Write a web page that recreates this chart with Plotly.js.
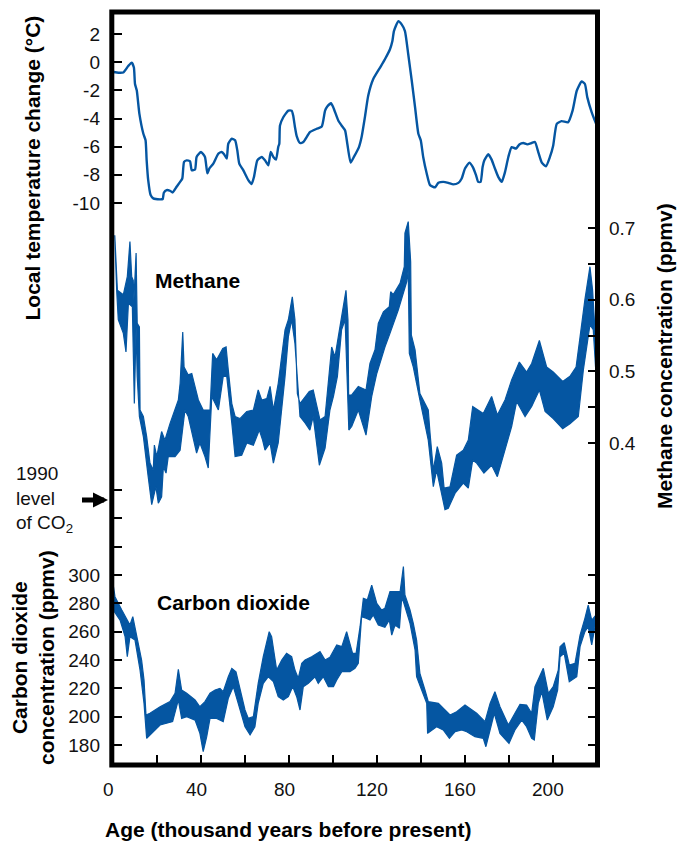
<!DOCTYPE html>
<html><head><meta charset="utf-8">
<script src="https://cdn.plot.ly/plotly-3.0.1.min.js"></script>
<style>html,body{margin:0;padding:0;background:#fff;} #chart{width:687px;height:841px;}</style>
</head><body><div id="chart"></div>
<script>
// ---------------- DATA ----------------
// Local temperature change (deg C) : [age kyr BP, value]
const temperature = [[0.3,-0.7],[2.5,-0.75],[4.7,-0.73],[7,-0.26],[8.5,-0.03],[9.5,-0.38],[10,-1.55],[10.8,-2.0],[12,-3.67],[13.8,-5.08],[14.8,-5.55],[15.3,-6.97],[16,-8.38],[17.1,-9.44],[18.3,-9.67],[21.4,-9.74],[22.6,-9.72],[23.1,-9.27],[24.4,-9.08],[25.9,-9.13],[27.1,-9.25],[28.9,-8.85],[30.5,-8.5],[31.5,-8.26],[32.3,-7.08],[33.5,-6.97],[35,-7.04],[35.8,-7.67],[37.3,-7.62],[38,-6.73],[40,-6.38],[41.8,-6.73],[42.9,-7.9],[43.8,-7.55],[45.6,-7.2],[47.9,-6.49],[49.4,-6.38],[50.5,-6.54],[51.7,-6.85],[52.4,-5.79],[54,-5.43],[55.5,-5.55],[56.5,-6.26],[57.4,-7.2],[59.2,-7.67],[61.5,-8.38],[63,-8.66],[64.1,-8.14],[65.6,-6.97],[67.6,-6.73],[69.1,-6.97],[70.6,-7.32],[71.7,-6.38],[72.9,-6.73],[74.1,-6.92],[75.1,-6.03],[75.6,-5.79],[75.9,-4.5],[77.4,-3.91],[79.7,-3.44],[81.2,-3.44],[81.9,-3.79],[82.7,-4.6],[83.5,-5.25],[85,-5.74],[86.5,-5.67],[89.5,-4.97],[92.6,-4.73],[94.9,-4.57],[96.4,-3.44],[97.4,-3.15],[99.1,-2.92],[100.1,-3.2],[102.4,-4.14],[103.9,-4.5],[105.5,-4.85],[106.5,-5.79],[108,-7.13],[109.5,-6.73],[111.8,-6.03],[113,-5.32],[114.5,-3.91],[116,-2.38],[118.3,-1.2],[121.4,-0.38],[123.6,0.21],[125.9,0.92],[127,1.5],[127.7,2.21],[129.7,2.91],[131.2,2.68],[132.7,2.21],[134.2,0.56],[135.8,-1.32],[137.3,-3.2],[138.8,-5.08],[139.9,-5.55],[141,-6.73],[142.6,-7.9],[144.1,-8.73],[146.4,-8.89],[147.9,-8.57],[150.1,-8.5],[152.4,-8.57],[154.7,-8.68],[157,-8.57],[158.5,-8.26],[160,-7.55],[162,-7.13],[163.5,-7.44],[165,-8.02],[166,-8.5],[167.1,-8.5],[168,-7.44],[168.8,-6.97],[170.6,-6.54],[172.1,-6.92],[173.6,-7.55],[175.1,-8.14],[176.7,-8.5],[178.2,-7.79],[179.7,-6.73],[181.2,-6.03],[183.2,-6.14],[184.7,-5.84],[186.5,-5.74],[188.3,-5.84],[190.3,-5.74],[191.8,-5.67],[193.3,-6.38],[194.9,-7.13],[196.8,-7.39],[198.6,-6.73],[200.1,-5.91],[201.7,-4.38],[203.9,-4.19],[206.9,-4.26],[208.9,-3.44],[210.8,-2.03],[213,-1.37],[214.5,-1.55],[215.6,-2.5],[217.6,-3.56],[219.6,-4.38]];

// Methane concentration (ppmv) band : upper and lower edges [age, value]
const methaneUpper = [[0.8,0.69],[2,0.613],[4.7,0.607],[6.5,0.632],[7.7,0.681],[8.5,0.632],[9.2,0.627],[9.5,0.6],[10.5,0.665],[11,0.567],[12,0.562],[12.3,0.446],[13.8,0.437],[15.3,0.409],[16.8,0.372],[18.3,0.362],[18.8,0.397],[19.9,0.381],[22.1,0.416],[23.6,0.404],[25.9,0.427],[29.7,0.46],[30.5,0.483],[31.7,0.555],[32.3,0.506],[34.2,0.495],[35.8,0.497],[38.8,0.46],[41,0.446],[44.1,0.446],[45.3,0.525],[47.1,0.516],[49.9,0.532],[51.4,0.534],[52.4,0.502],[54,0.455],[55.5,0.437],[57.7,0.434],[60.8,0.444],[63.8,0.446],[66,0.474],[67.6,0.46],[69.9,0.462],[71.4,0.479],[72.9,0.446],[75.1,0.483],[78.2,0.558],[79.7,0.572],[81.5,0.604],[82.7,0.572],[83.8,0.469],[85,0.455],[89.2,0.472],[91,0.474],[94.1,0.432],[96.4,0.437],[99.4,0.534],[100.9,0.52],[102.4,0.548],[103.9,0.576],[105.9,0.613],[106.4,0.59],[106.8,0.572],[107.1,0.467],[108.5,0.467],[111.5,0.479],[115,0.474],[116.8,0.511],[119.1,0.53],[120.6,0.567],[122.9,0.583],[125.6,0.59],[126.2,0.611],[127.4,0.607],[130.5,0.623],[132.4,0.646],[132.7,0.693],[134.2,0.709],[135,0.655],[135.3,0.653],[135.6,0.551],[137.3,0.53],[139.5,0.469],[143.3,0.446],[144.1,0.414],[145.6,0.362],[147.4,0.395],[149.4,0.372],[150.5,0.337],[153.2,0.339],[156.2,0.383],[159.2,0.39],[161.5,0.404],[163.5,0.451],[168.3,0.441],[172.1,0.465],[174.7,0.439],[178.2,0.46],[181.2,0.488],[184.7,0.513],[188,0.499],[190.3,0.511],[193.8,0.543],[197.1,0.506],[200.1,0.499],[204.4,0.486],[207.7,0.493],[210.5,0.506],[212.3,0.548],[214.5,0.6],[216.8,0.646],[218,0.613],[219.6,0.53]];
const methaneLower = [[0.8,0.69],[1.7,0.611],[2.4,0.572],[4.7,0.553],[5.9,0.527],[7,0.595],[8.8,0.59],[9.7,0.455],[10.5,0.562],[11,0.493],[12,0.437],[13.8,0.409],[16,0.353],[17.6,0.314],[18.6,0.325],[19.5,0.339],[20.6,0.316],[22.1,0.325],[22.9,0.367],[24.1,0.358],[25.1,0.381],[28.2,0.381],[30.5,0.39],[32.7,0.446],[34.2,0.437],[38,0.386],[39.5,0.4],[41.8,0.381],[43.3,0.365],[44.9,0.465],[47.9,0.446],[50.1,0.493],[51.7,0.493],[54,0.428],[55.5,0.381],[58.5,0.383],[60.8,0.4],[63.8,0.397],[66.5,0.418],[68,0.404],[69.1,0.39],[71.4,0.4],[72.9,0.372],[75.1,0.4],[78.2,0.493],[79.7,0.548],[81.2,0.572],[82.7,0.539],[85,0.437],[87.3,0.428],[89.5,0.418],[91,0.437],[93.8,0.369],[96.4,0.393],[98.6,0.446],[100.2,0.465],[102,0.493],[103.9,0.558],[105.5,0.572],[106.5,0.483],[107.2,0.418],[108.5,0.423],[111.5,0.446],[115,0.411],[117.6,0.465],[119.9,0.497],[123.6,0.534],[125.9,0.553],[129.7,0.586],[133.5,0.625],[134.2,0.641],[134.7,0.525],[136.5,0.506],[139.5,0.46],[143.3,0.404],[145.6,0.339],[147.1,0.362],[148.6,0.339],[150.9,0.307],[152.4,0.309],[155.5,0.33],[159.2,0.344],[161.5,0.337],[163.5,0.376],[165.3,0.372],[168.6,0.358],[172.1,0.369],[174.7,0.353],[178.2,0.39],[181.2,0.423],[183.5,0.458],[187.3,0.437],[190.3,0.451],[193.8,0.474],[196.4,0.444],[200.1,0.434],[204.4,0.42],[207.7,0.427],[211.5,0.437],[213.8,0.502],[216.8,0.565],[218.3,0.558],[219.6,0.493]];

// Carbon dioxide concentration (ppmv) band : upper and lower edges [age, value]
const co2Upper = [[0.1,292.9],[0.9,284.7],[4,275.3],[6.2,269.4],[7.7,264.7],[9,270.6],[10,263.5],[11.5,251.8],[13,240],[14.1,225.9],[15,201.2],[16.8,202.4],[21.4,207],[25.9,210.6],[28.2,216.5],[29.7,233.4],[31.2,218.8],[33.5,216.5],[37.3,211.8],[39.5,207],[41.8,210.6],[44.1,216.5],[46.4,218.8],[48.6,220],[50.1,217.6],[52.4,228.2],[54,234.1],[55.9,231.7],[57.7,220],[60,204.7],[61.5,198.8],[63.8,200],[66,223.5],[68.3,242.3],[71,260],[72.1,256.5],[74.4,232.9],[76.7,240],[78.9,244.7],[81.2,242.3],[82.7,232.9],[84.2,227.1],[85.8,237.7],[87.3,240],[90.3,242.3],[94.1,245.9],[96.4,240],[98.6,242],[101.7,250.6],[104,249.4],[106.2,260],[108.9,244.7],[110.5,244.7],[112.3,263.5],[113.8,283.5],[115.6,282.4],[117.6,292.9],[119.9,280],[122.1,275.3],[123.6,276.5],[125.9,288.2],[130.5,288.2],[132,305.9],[132.7,285.9],[135,275.3],[136.5,265.9],[138,254.1],[139.5,230.6],[141.8,218.8],[143.3,210.6],[147.9,209.4],[150.9,204.7],[153.2,201.2],[156.2,203.5],[160,208.2],[165.3,202.4],[169.1,196.5],[171.4,209.4],[173.6,217.6],[175.9,207],[179.7,194.1],[182.7,202.4],[185,208.7],[188,208.2],[190.3,202.4],[191.8,221.2],[195.6,234.1],[197.9,216.5],[200.1,221.2],[202.4,232.9],[203.2,249.4],[205.1,252.2],[207.4,236.5],[210,237.7],[212.3,257.6],[214.5,269.4],[216,278.8],[217.6,268.2],[219.6,271.8]];
const co2Lower = [[0.1,275.3],[3.2,268.2],[5.5,256.5],[6.5,242.3],[7.7,256.5],[10,254.1],[12.3,232.9],[14.1,209.4],[15.3,184.7],[17.6,188.2],[21.4,194.1],[27.1,196.5],[29.7,211.8],[31.2,198.8],[33.5,200],[37.3,197.6],[39.5,188.2],[41,175.3],[42.6,185.9],[44.1,198.8],[47.1,198.8],[50.1,196.5],[52.4,213],[54.7,221.2],[57,209.4],[60,192.9],[62.3,187.1],[64.5,192.9],[66,209.4],[68.3,223.5],[70.6,228.2],[72.9,224.7],[75.1,214.1],[77.4,211.8],[79.7,214.1],[81.7,221.2],[83.5,214.1],[85,204.7],[86.5,221.2],[88.8,223.5],[91.8,228.2],[93.3,223.5],[95.6,228.2],[97.9,221.2],[100.2,221.2],[101.7,225.9],[104,231.8],[107.7,231.8],[110,234.1],[111.5,237.7],[113,270.6],[115.3,269.4],[116.8,268.2],[118.3,271.8],[120.6,264.7],[123.6,263.1],[125.6,268.2],[126.7,257.6],[128.2,264.7],[130.2,262.4],[131.2,283.5],[132,281.2],[135,265.9],[137.3,247.1],[138,228.2],[140.3,218.8],[142.6,209.4],[143,188.2],[147.1,192.9],[150.1,190.6],[152.9,184.7],[155.5,189.4],[158.5,190.6],[160.8,189.4],[164.5,185.9],[168.3,184.7],[169.5,178.8],[171.4,190.6],[173.3,202.4],[175.9,188.2],[180,181.2],[182.7,190.6],[185.8,197.6],[188,192.9],[190.3,184.7],[191.5,183.5],[193.3,209.4],[194.9,217.6],[197.4,197.6],[200.1,207],[202.1,218.8],[203.2,242.3],[205.1,244.7],[207.4,224.7],[210.8,228.2],[212.3,249.4],[214.5,260],[216,263.5],[217.6,250.6],[219.6,268.2]];

const co2Level1990 = 353;

// Tick values / labels
const ageTickVals = [20,40,60,80,100,120,140,160,180,200];
const ageLabelVals = [0,40,80,120,160,200];
const tempTickVals = [-10,-8,-6,-4,-2,0,2];
const tempTickText = ['-10','-8','-6','-4','-2','0','2'];
const ch4TickVals = [0.4,0.45,0.5,0.55,0.6,0.65,0.7];
const ch4TickText = ['0.4','','0.5','','0.6','','0.7'];
const co2LeftTickVals = [180,200,220,240,260,280,300,320,340,360];
const co2LeftTickText = ['180','200','220','240','260','280','300','','',''];
const co2RightTickVals = [180,200,220,240,260,280,300];

// ---------------- LAYOUT GEOMETRY ----------------
const W = 687, H = 841;
const L = 113, R = 597, T = 12, B = 765;
const PW = R - L, PH = B - T;
const BLUE = '#0556a2';
const FONT = 'Liberation Sans, Arial, Helvetica, sans-serif';
const fx = px => (px - L) / PW;
const fy = py => (B - py) / PH;
// axis range so that value v1 sits at pixel p1 and v2 at p2
function rangeFor(v1, p1, v2, p2) {
  const k = (v2 - v1) / (p1 - p2);
  return [v1 - (B - p1) * k, v1 + (p1 - T) * k];
}

const xs = a => a.map(d => d[0]);
const ys = a => a.map(d => d[1]);
const band = (up, lo) => ({
  x: xs(up).concat(xs(lo).reverse()),
  y: ys(up).concat(ys(lo).reverse())
});

const ch4Band = band(methaneUpper, methaneLower);
const co2Band = band(co2Upper, co2Lower);

const traces = [
  {x: xs(temperature), y: ys(temperature), type: 'scatter', mode: 'lines', yaxis: 'y',
   line: {color: BLUE, width: 2.4, shape: 'spline', smoothing: 0.5}, hoverinfo: 'skip'},
  {x: ch4Band.x, y: ch4Band.y, type: 'scatter', mode: 'lines', yaxis: 'y2', fill: 'toself',
   fillcolor: BLUE, line: {color: BLUE, width: 1.2}, hoverinfo: 'skip'},
  {x: co2Band.x, y: co2Band.y, type: 'scatter', mode: 'lines', yaxis: 'y3', fill: 'toself',
   fillcolor: BLUE, line: {color: BLUE, width: 1.2}, hoverinfo: 'skip'},
  {x: [null], y: [null], type: 'scatter', mode: 'lines', yaxis: 'y4', hoverinfo: 'skip'}
];

const tickFont = {family: FONT, size: 19, color: '#111'};
const common = {showgrid: false, zeroline: false, showline: false, ticks: 'inside',
  ticklen: 9, tickwidth: 2, tickcolor: '#000', fixedrange: true, tickfont: tickFont};

const titleFont = {family: FONT, size: 21, color: '#000'};
const annotations = [
  {text: '<b>Local temperature change (°C)</b>', textangle: -90, xref: 'paper', yref: 'paper',
   x: fx(32), y: fy(168.5), xanchor: 'center', yanchor: 'middle', showarrow: false, font: titleFont},
  {text: '<b>Methane concentration (ppmv)</b>', textangle: -90, xref: 'paper', yref: 'paper',
   x: fx(664), y: fy(356), xanchor: 'center', yanchor: 'middle', showarrow: false, font: titleFont},
  {text: '<b>Carbon dioxide<br>concentration (ppmv)</b>', textangle: -90, xref: 'paper', yref: 'paper',
   x: fx(33), y: fy(658), xanchor: 'center', yanchor: 'middle', showarrow: false, font: titleFont},
  {text: '<b>Age (thousand years before present)</b>', xref: 'paper', yref: 'paper',
   x: fx(103), y: fy(829), xanchor: 'left', yanchor: 'middle', showarrow: false, font: titleFont},
  {text: '<b>Methane</b>', xref: 'paper', yref: 'paper', x: fx(153), y: fy(280),
   xanchor: 'left', yanchor: 'middle', showarrow: false, font: titleFont},
  {text: '<b>Carbon dioxide</b>', xref: 'paper', yref: 'paper', x: fx(155), y: fy(602),
   xanchor: 'left', yanchor: 'middle', showarrow: false, font: titleFont},
  {text: '1990<br>level<br>of CO<sub>2</sub>', xref: 'paper', yref: 'paper', x: fx(14), y: fy(499),
   xanchor: 'left', yanchor: 'middle', align: 'left', showarrow: false, font: tickFont},
  {text: ' ', xref: 'paper', yref: 'y3', x: fx(108), y: co2Level1990, ax: -29, ay: 0,
   showarrow: true, arrowhead: 2, arrowsize: 0.6, arrowwidth: 5, arrowcolor: '#000'}
];
ageLabelVals.forEach(v => annotations.push({
  text: String(v), xref: 'x', yref: 'paper', x: v, y: fy(789), xshift: -5,
  xanchor: 'center', yanchor: 'middle', showarrow: false, font: tickFont
}));

const layout = {
  width: W, height: H, autosize: false,
  margin: {l: L, r: W - R, t: T, b: H - B, pad: 0},
  paper_bgcolor: '#fff', plot_bgcolor: 'rgba(0,0,0,0)',
  showlegend: false, hovermode: false,
  xaxis: Object.assign({}, common, {range: [0, 220], tickvals: ageTickVals, showticklabels: false, ticklen: 10}),
  yaxis: Object.assign({}, common, {range: rangeFor(2, 34, -10, 203), tickvals: tempTickVals,
    ticktext: tempTickText, side: 'left', ticklabelstandoff: 12}),
  yaxis2: Object.assign({}, common, {range: rangeFor(0.7, 228, 0.4, 443), tickvals: ch4TickVals,
    ticktext: ch4TickText, side: 'right', overlaying: 'y', anchor: 'x', ticklabelstandoff: 11}),
  yaxis3: Object.assign({}, common, {range: rangeFor(300, 575, 180, 745), tickvals: co2LeftTickVals,
    ticktext: co2LeftTickText, side: 'left', overlaying: 'y', anchor: 'x', ticklabelstandoff: 12}),
  yaxis4: Object.assign({}, common, {range: rangeFor(300, 575, 180, 745), tickvals: co2RightTickVals,
    showticklabels: false, side: 'right', overlaying: 'y', anchor: 'x'}),
  shapes: [{type: 'rect', xref: 'paper', yref: 'paper', x0: fx(111.8), x1: fx(597.5), y0: fy(765), y1: fy(12),
    line: {color: '#000', width: 5}, fillcolor: 'rgba(0,0,0,0)', layer: 'above'}],
  annotations: annotations
};

Plotly.newPlot('chart', traces, layout, {staticPlot: true, displayModeBar: false});
</script></body></html>
